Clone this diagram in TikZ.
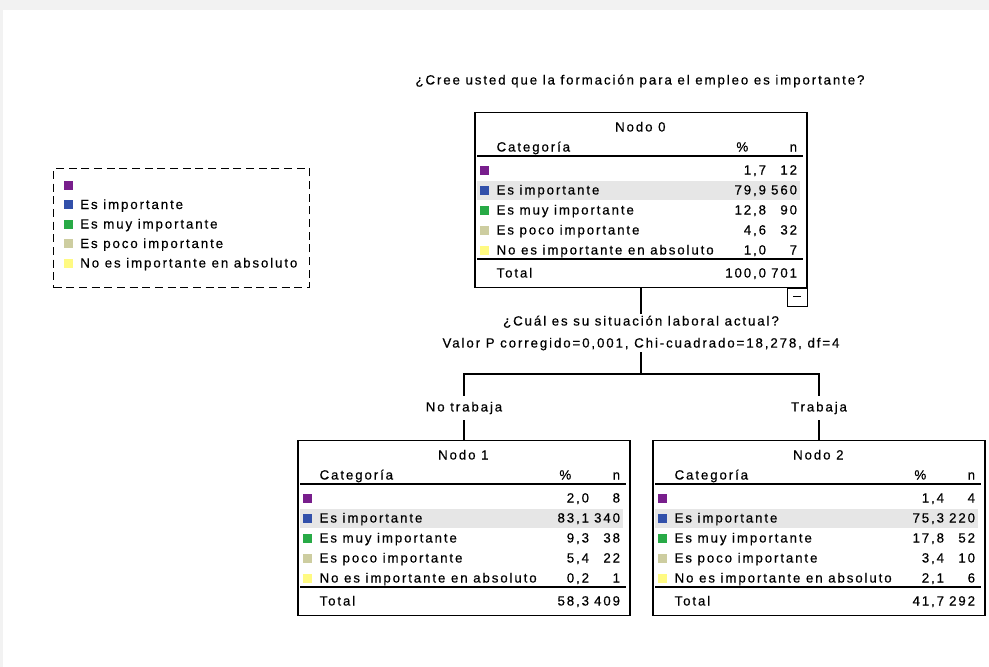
\documentclass[tikz,border=0pt]{standalone}
\usepackage{fontspec}
\newfontfamily\treefont[LetterSpace=14, FakeBold=0.4]{Liberation Sans}
\definecolor{cat1}{RGB}{120,30,140}
\definecolor{cat2}{RGB}{50,80,170}
\definecolor{cat3}{RGB}{40,170,70}
\definecolor{cat4}{RGB}{205,205,160}
\definecolor{cat5}{RGB}{255,250,130}
\definecolor{rowgray}{RGB}{230,230,230}

\newcommand\catname[1]{\ifcase#1\or\or Es importante\or Es muy importante\or Es poco importante\or No es importante en absoluto\fi}

\tikzset{
  every node/.style={font=\treefont\fontsize{10}{11}\selectfont, inner sep=0pt},
  treebox/.style={draw, line width=1pt, minimum width=249pt, minimum height=131.25pt, anchor=north},
  swatch/.style={minimum size=6.75pt},
  rule/.style={line width=1.3pt},
  link/.style={line width=0.8pt},
}

% table inside a tree node: name, title, rows (pct/n), total pct, total n
\newcommand\nodetable[5]{%
  \begin{scope}[shift={(#1.north west)}]
    \fill[rowgray] (3,69) rectangle (326,88);
    \node[anchor=base] at (166,19.5) {#2};
    \node[anchor=base west] at (22,39.5) {Categoría};
    \node[anchor=base] at (268,39.5) {\%};
    \node[anchor=base east] at (323,39.5) {n};
    \draw[rule] (3,44) -- (329,44);
    \foreach \p/\k [count=\i] in {#3} {
      \node[swatch, fill=cat\i] at (10,38+20*\i) {};
      \node[anchor=base west] at (22,42.5+20*\i) {\catname{\i}};
      \node[anchor=base east] at (292,42.5+20*\i) {\p};
      \node[anchor=base east] at (323,42.5+20*\i) {\k};
    }
    \draw[rule] (3,147) -- (329,147);
    \node[anchor=base west] at (22,165.5) {Total};
    \node[anchor=base east] at (292,165.5) {#4};
    \node[anchor=base east] at (323,165.5) {#5};
  \end{scope}}

\begin{document}
\begin{tikzpicture}[x=0.75pt, y=-0.75pt]
  \useasboundingbox (0,0) rectangle (989,667);
  \fill[gray!10] (0,0) rectangle (989,10);
  \fill[gray!10] (0,0) rectangle (3,667);

  % legend
  \node[draw, line width=1pt, dash pattern=on 6pt off 3.5pt, minimum width=192pt,
        minimum height=89.25pt, anchor=north west] (leg) at (53,168) {};
  \foreach \i in {1,...,5} {
    \node[swatch, fill=cat\i] at (68,165.5+19.5*\i) {};
    \node[anchor=base west] at (80,170+19.5*\i) {\catname{\i}};
  }

  \node[anchor=base] (title) at (640,84.5) {¿Cree usted que la formación para el empleo es importante?};

  % tree
  \node[treebox] (n0) at (641,112) {};
  \node[treebox] (n1) at (464,440) {};
  \node[treebox] (n2) at (819,440) {};
  \node[draw, line width=0.8pt, minimum width=15pt, minimum height=13.5pt,
        anchor=north east] (minus) at (n0.south east) {\rule[2pt]{6pt}{0.8pt}};

  \nodetable{n0}{Nodo 0}{{1,7}/12,{79,9}/560,{12,8}/90,{4,6}/32,{1,0}/7}{100,0}{701}
  \nodetable{n1}{Nodo 1}{{2,0}/8,{83,1}/340,{9,3}/38,{5,4}/22,{0,2}/1}{58,3}{409}
  \nodetable{n2}{Nodo 2}{{1,4}/4,{75,3}/220,{17,8}/52,{3,4}/10,{2,1}/6}{41,7}{292}

  \node[align=center, minimum height=28.5pt, font=\treefont\fontsize{10}{16.5}\selectfont]
    (q) at (641,333) {¿Cuál es su situación laboral actual?\\
    Valor P corregido=0,001, Chi-cuadrado=18,278, df=4};
  \coordinate (fork) at (641,374);
  \node[minimum height=18pt] (lab1) at (464,408) {No trabaja};
  \node[minimum height=18pt] (lab2) at (819,408) {Trabaja};

  \draw[link] (n0.south) -- (q.north);
  \draw[link] (q.south) -- (fork);
  \draw[link] (lab1.north) |- (fork) -| (lab2.north);
  \draw[link] (lab1.south) -- (n1.north);
  \draw[link] (lab2.south) -- (n2.north);
\end{tikzpicture}
\end{document}
